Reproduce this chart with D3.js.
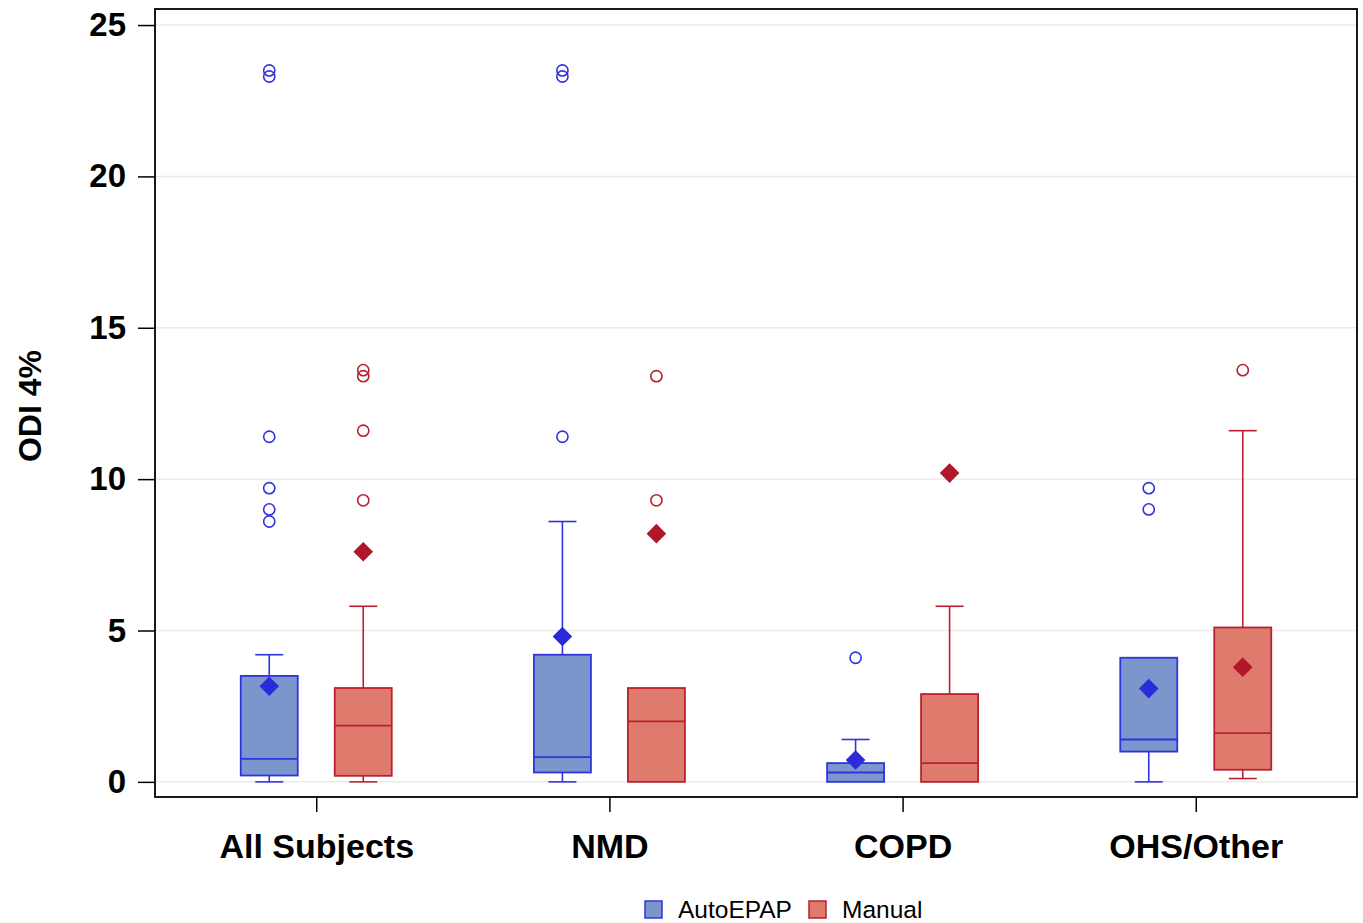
<!DOCTYPE html>
<html>
<head>
<meta charset="utf-8">
<script src="https://cdn.jsdelivr.net/npm/d3@7/dist/d3.min.js"></script>
<style>
  html, body { margin: 0; padding: 0; background: #fff; }
  svg { display: block; font-family: "Liberation Sans", Arial, sans-serif; }
</style>
</head>
<body>
<svg id="chart" width="1363" height="923"></svg>
<script>
// ---- Data ----
const categories = ["All Subjects", "NMD", "COPD", "OHS/Other"];
const seriesNames = ["AutoEPAP", "Manual"];
const yTicks = [0, 5, 10, 15, 20, 25];

// AutoEPAP
const autoWhiskerLow  = [0.0, 0.0, 0.0, 0.0];
const autoQ1          = [0.21, 0.31, 0.0, 1.0];
const autoMedian      = [0.76, 0.82, 0.31, 1.4];
const autoQ3          = [3.5, 4.2, 0.62, 4.1];
const autoWhiskerHigh = [4.2, 8.6, 1.4, 4.1];
const autoMean        = [3.16, 4.8, 0.72, 3.08];
const autoOutliers    = [[23.5, 23.3, 11.4, 9.7, 9.0, 8.6], [23.5, 23.3, 11.4], [4.1], [9.7, 9.0]];

// Manual
const manWhiskerLow  = [0.0, 0.0, 0.0, 0.11];
const manQ1          = [0.2, 0.0, 0.0, 0.4];
const manMedian      = [1.86, 2.0, 0.62, 1.61];
const manQ3          = [3.1, 3.1, 2.9, 5.1];
const manWhiskerHigh = [5.8, 3.1, 5.8, 11.6];
const manMean        = [7.6, 8.2, 10.2, 3.79];
const manOutliers    = [[13.6, 13.4, 11.6, 9.3], [13.4, 9.3], [], [13.6]];

const series = [
  { name: seriesNames[0], wl: autoWhiskerLow, q1: autoQ1, med: autoMedian, q3: autoQ3, wh: autoWhiskerHigh, mean: autoMean, out: autoOutliers,
    stroke: "#3333dd", fill: "#7b96cc", meanFill: "#2b2bdb" },
  { name: seriesNames[1], wl: manWhiskerLow, q1: manQ1, med: manMedian, q3: manQ3, wh: manWhiskerHigh, mean: manMean, out: manOutliers,
    stroke: "#ba2030", fill: "#df7b6d", meanFill: "#b0172a" }
];

// ---- Layout ----
const svg = d3.select("#chart");
const plotLeft = 155, plotRight = 1357, plotTop = 9, plotBottom = 797;

const x = d3.scalePoint().domain(categories).range([plotLeft, plotRight]).padding(0.55);
const xSub = d3.scaleBand().domain(seriesNames).range([-94, 94]).paddingInner(0);
const y = d3.scaleLinear().domain([-0.5, 25.53]).range([plotBottom, plotTop]);

const boxW = 57, capW = 28;

// gridlines
svg.append("g").selectAll("line").data(yTicks).join("line")
  .attr("x1", plotLeft).attr("x2", plotRight)
  .attr("y1", d => y(d)).attr("y2", d => y(d))
  .attr("stroke", "#ebebeb").attr("stroke-width", 1.5);

// axes
const yAxis = d3.axisLeft(y).tickValues(yTicks).tickSize(17).tickPadding(12);
const gy = svg.append("g").attr("transform", `translate(${plotLeft},0)`).call(yAxis);
gy.select(".domain").remove();
gy.selectAll(".tick line").attr("stroke", "#000").attr("stroke-width", 1.5);
gy.selectAll(".tick text").attr("font-size", 33).attr("font-weight", "bold").attr("fill", "#000")
  .attr("font-family", "'Liberation Sans', Arial, sans-serif");

const xAxis = d3.axisBottom(x).tickSize(15).tickPadding(22);
const gx = svg.append("g").attr("transform", `translate(0,${plotBottom})`).call(xAxis);
gx.select(".domain").remove();
gx.selectAll(".tick line").attr("stroke", "#000").attr("stroke-width", 1.5);
gx.selectAll(".tick text").attr("font-size", 34).attr("font-weight", "bold").attr("fill", "#000")
  .attr("font-family", "'Liberation Sans', Arial, sans-serif");

// boxes
series.forEach(s => {
  const off = xSub(s.name) + xSub.bandwidth() / 2;
  const g = svg.append("g");
  categories.forEach((c, i) => {
    const cx = x(c) + off;
    // whiskers
    g.append("line").attr("x1", cx).attr("x2", cx).attr("y1", y(s.q3[i])).attr("y2", y(s.wh[i]))
      .attr("stroke", s.stroke).attr("stroke-width", 1.6);
    g.append("line").attr("x1", cx).attr("x2", cx).attr("y1", y(s.q1[i])).attr("y2", y(s.wl[i]))
      .attr("stroke", s.stroke).attr("stroke-width", 1.6);
    if (s.wh[i] > s.q3[i]) {
      g.append("line").attr("x1", cx - capW / 2).attr("x2", cx + capW / 2).attr("y1", y(s.wh[i])).attr("y2", y(s.wh[i]))
        .attr("stroke", s.stroke).attr("stroke-width", 1.6);
    }
    if (s.wl[i] < s.q1[i]) {
      g.append("line").attr("x1", cx - capW / 2).attr("x2", cx + capW / 2).attr("y1", y(s.wl[i])).attr("y2", y(s.wl[i]))
        .attr("stroke", s.stroke).attr("stroke-width", 1.6);
    }
    // box
    g.append("rect").attr("x", cx - boxW / 2).attr("width", boxW)
      .attr("y", y(s.q3[i])).attr("height", y(s.q1[i]) - y(s.q3[i]))
      .attr("fill", s.fill).attr("stroke", s.stroke).attr("stroke-width", 1.8);
    // median
    g.append("line").attr("x1", cx - boxW / 2).attr("x2", cx + boxW / 2).attr("y1", y(s.med[i])).attr("y2", y(s.med[i]))
      .attr("stroke", s.stroke).attr("stroke-width", 1.8);
    // mean diamond
    g.append("path").attr("d", d3.symbol().type(d3.symbolDiamond2).size(245)())
      .attr("transform", `translate(${cx},${y(s.mean[i])})`)
      .attr("fill", s.meanFill);
    // outliers
    g.selectAll(null).data(s.out[i]).join("circle")
      .attr("cx", cx).attr("cy", d => y(d)).attr("r", 5.6)
      .attr("fill", "none").attr("stroke", s.stroke).attr("stroke-width", 1.6);
  });
});

// frame
svg.append("rect").attr("x", plotLeft).attr("y", plotTop).attr("width", plotRight - plotLeft).attr("height", plotBottom - plotTop)
  .attr("fill", "none").attr("stroke", "#000").attr("stroke-width", 1.8);

// y label
svg.append("text").attr("transform", `translate(41,406) rotate(-90)`)
  .attr("text-anchor", "middle").attr("font-size", 32).attr("font-weight", "bold").text("ODI 4%");

// legend
const legend = svg.append("g");
const legItems = [
  { name: seriesNames[0], x: 645, tx: 678, fill: series[0].fill, stroke: series[0].stroke },
  { name: seriesNames[1], x: 809, tx: 842, fill: series[1].fill, stroke: series[1].stroke }
];
legend.selectAll("rect").data(legItems).join("rect")
  .attr("x", d => d.x).attr("y", 901).attr("width", 17).attr("height", 17)
  .attr("fill", d => d.fill).attr("stroke", d => d.stroke).attr("stroke-width", 1.5);
legend.selectAll("text").data(legItems).join("text")
  .attr("x", d => d.tx).attr("y", 918).attr("font-size", 24.5).attr("fill", "#000").text(d => d.name);
</script>
</body>
</html>
